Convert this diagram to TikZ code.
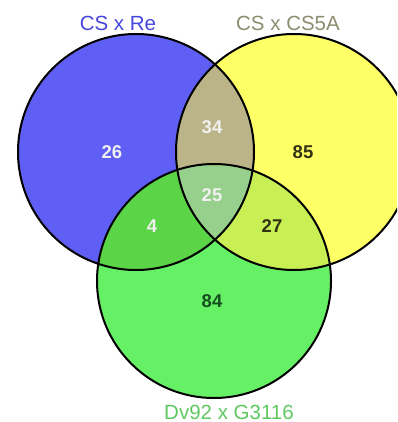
\documentclass[tikz,border=0pt]{standalone}
\usepackage{fontspec}
\setmainfont{Liberation Sans}
\definecolor{cblue}{RGB}{95,95,245}
\definecolor{cyel}{RGB}{255,255,102}
\definecolor{cgreen}{RGB}{102,240,102}
\definecolor{cby}{RGB}{186,180,136}
\definecolor{cbg}{RGB}{92,212,72}
\definecolor{cyg}{RGB}{200,240,84}
\definecolor{cbyg}{RGB}{150,208,140}
\definecolor{lblue}{RGB}{70,70,220}
\definecolor{lolive}{RGB}{140,140,110}
\definecolor{lgreen}{RGB}{96,200,96}
\definecolor{ndark}{RGB}{50,50,20}
\definecolor{ngreen}{RGB}{20,80,30}
\definecolor{nlight}{RGB}{240,240,240}
\begin{document}
\begin{tikzpicture}[x=1pt,y=-1pt,
  setlabel/.style={font=\fontsize{20.5}{20.5}\selectfont},
  num/.style={font=\fontsize{18.5}{18.5}\selectfont\bfseries},
  outline/.style={draw=black,line width=2pt}]
\useasboundingbox (0,0) rectangle (397,422);
\begin{scope}
\clip (0,0) rectangle (397,422);
\def\cb{(136,152) circle (118)}
\def\cy{(294,152) circle (118)}
\def\cg{(214,281) circle (117)}
\fill[cblue] \cb;
\fill[cyel] \cy;
\begin{scope}\clip \cb; \fill[cby] \cy; \end{scope}
\fill[cgreen] \cg;
\begin{scope}\clip \cg; \fill[cbg] \cb; \end{scope}
\begin{scope}\clip \cg; \fill[cyg] \cy; \end{scope}
\begin{scope}\clip \cg; \clip \cb; \fill[cbyg] \cy; \end{scope}
\draw[outline] \cb;
\draw[outline] \cy;
\draw[outline] \cg;
\end{scope}
\node[setlabel,text=lblue] (lb) at (118,23) {CS x Re};
\node[setlabel,text=lolive] (ly) at (288,23) {CS x CS5A};
\node[setlabel,text=lgreen] (lg) at (229,412) {Dv92 x G3116};
\node[num,text=nlight] (n26) at (112,152) {26};
\node[num,text=nlight] (n34) at (212,127) {34};
\node[num,text=ndark] (n85) at (303,152) {85};
\node[num,text=nlight] (n25) at (212,195) {25};
\node[num,text=nlight] (n4) at (152,226) {4};
\node[num,text=ndark] (n27) at (272,226) {27};
\node[num,text=ngreen] (n84) at (212,301) {84};
\end{tikzpicture}
\end{document}
